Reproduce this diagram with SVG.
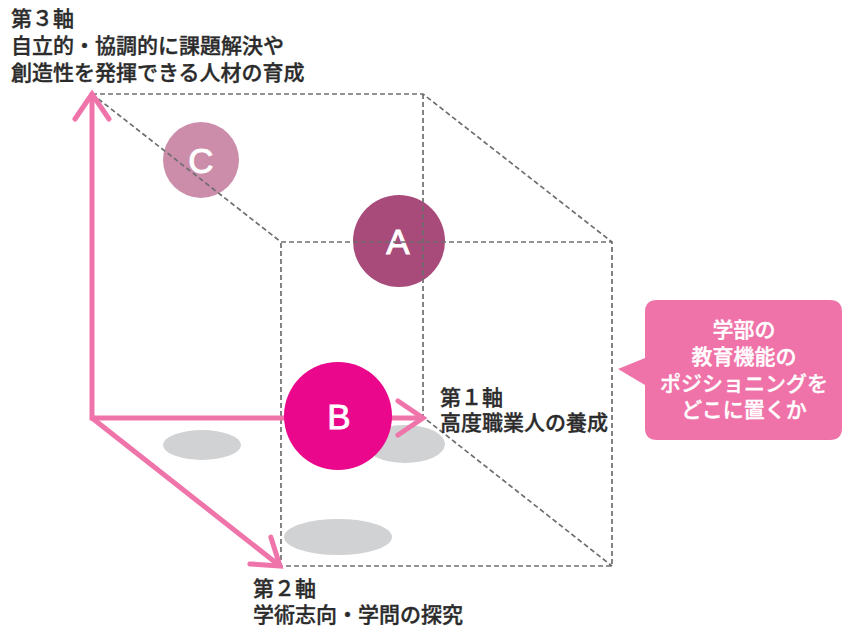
<svg xmlns="http://www.w3.org/2000/svg" width="845" height="628" viewBox="0 0 845 628">
<style>
.jp{font-family:"Noto Sans CJK JP","Noto Sans CJK SC",sans-serif;font-size:21px;font-weight:500;fill:#2b2b2b;stroke:#2b2b2b;stroke-width:0.35}
.wt{fill:#ffffff;stroke:#ffffff;text-anchor:middle}
.lt{font-family:"Liberation Sans",Arial,sans-serif;font-size:35px;fill:#ffffff;stroke:#ffffff;stroke-width:0.9;text-anchor:middle}
.dash{fill:none;stroke:#6e6e70;stroke-width:1.7;stroke-dasharray:5 3}
.axis{fill:none;stroke:#ef74a9;stroke-width:5;stroke-linejoin:miter}
.shadow{fill:#d1d2d4}
</style>
<defs>
<marker id="arr" markerUnits="userSpaceOnUse" viewBox="-30 -30 40 60" markerWidth="40" markerHeight="60" refX="0" refY="0" orient="auto-start-reverse" overflow="visible">
<path d="M-25,-17 L0,0 L-25,17" fill="none" stroke="#ef74a9" stroke-width="5" stroke-linecap="round" stroke-linejoin="miter"/>
</marker>
</defs>
<rect width="845" height="628" fill="#ffffff"/>
<g id="shadows">
<ellipse class="shadow" cx="202" cy="445" rx="39" ry="15"/>
<ellipse class="shadow" cx="405" cy="444" rx="40" ry="19"/>
<ellipse class="shadow" cx="338" cy="537" rx="54" ry="18"/>
</g>
<g id="node-C">
<circle cx="201" cy="160" r="38" fill="#cc8dab"/>
<text class="lt" x="201" y="173">C</text>
</g>
<g id="node-A">
<circle cx="399" cy="241" r="46" fill="#a94b7a"/>
<text class="lt" x="398" y="254">A</text>
</g>
<g id="cube">
<path class="dash" d="M92,94 H423 L612,242 M92,94 L281,242 M423,94 V417 L612,566 M281,242 H612 V566 H281 Z"/>
</g>
<g id="connectors">
<path class="axis" d="M92,94 V418 H423" marker-start="url(#arr)" marker-end="url(#arr)"/>
<path class="axis" d="M92,418 L280,566" marker-end="url(#arr)"/>
</g>
<g id="node-B">
<circle cx="338" cy="416" r="54" fill="#ea078c"/>
<text class="lt" x="339" y="429">B</text>
</g>
<g id="label-axis3">
<text class="jp"><tspan x="11" y="26">第３軸</tspan><tspan x="11" y="53">自立的・協調的に課題解決や</tspan><tspan x="11" y="80">創造性を発揮できる人材の育成</tspan></text>
</g>
<g id="label-axis1">
<text class="jp"><tspan x="440" y="405">第１軸</tspan><tspan x="440" y="430">高度職業人の養成</tspan></text>
</g>
<g id="label-axis2">
<text class="jp"><tspan x="253" y="596">第２軸</tspan><tspan x="253" y="622">学術志向・学問の探究</tspan></text>
</g>
<g id="callout">
<path d="M657,300 H830 Q842,300 842,312 V428 Q842,440 830,440 H657 Q645,440 645,428 V385 L618,369 L645,358 V312 Q645,300 657,300 Z" fill="#ef72a8"/>
<text class="jp wt"><tspan x="744" y="337">学部の</tspan><tspan x="744" y="364">教育機能の</tspan><tspan x="744" y="391">ポジショニングを</tspan><tspan x="744" y="417">どこに置くか</tspan></text>
</g>
</svg>
